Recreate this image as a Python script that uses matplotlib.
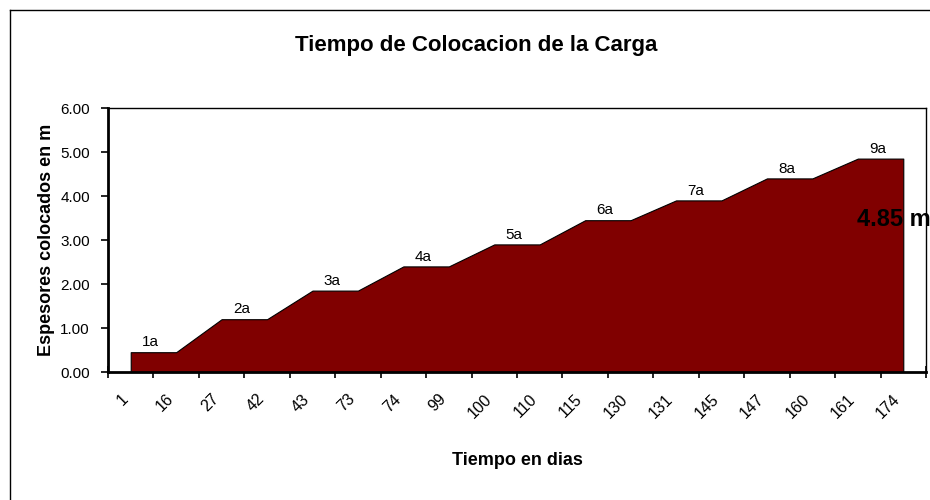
import numpy as np
import matplotlib.pyplot as plt
from matplotlib.lines import Line2D
from matplotlib.ticker import FixedLocator

plt.rcParams['font.family'] = ['Liberation Sans', 'DejaVu Sans']

# datos
dias = ['1', '16', '27', '42', '43', '73', '74', '99', '100', '110',
        '115', '130', '131', '145', '147', '160', '161', '174']
espesor = [0.45, 0.45, 1.20, 1.20, 1.85, 1.85, 2.40, 2.40, 2.90, 2.90,
           3.45, 3.45, 3.90, 3.90, 4.40, 4.40, 4.85, 4.85]
etapas = ['1a', '2a', '3a', '4a', '5a', '6a', '7a', '8a', '9a']
y_ticks = [0, 1, 2, 3, 4, 5, 6]

W, H = 930, 500
fig = plt.figure(figsize=(W / 100, H / 100), dpi=100)
ax = fig.add_axes([108 / W, 1 - 372 / H, (926 - 108) / W, (372 - 108) / H])

x = np.arange(len(dias))
ax.fill_between(x, espesor, 0, facecolor='#800000', edgecolor='black', lw=0.8, zorder=2)

# etiquetas de cada etapa, sobre el tramo horizontal
for i, lab in enumerate(etapas):
    xm = (x[2 * i] + x[2 * i + 1]) / 2
    ax.annotate(lab, (xm, espesor[2 * i]), xytext=(-2, 2), textcoords='offset points',
                ha='center', va='bottom', fontsize=11, zorder=3)

ax.set_xlim(-0.5, len(dias) - 0.5)
ax.set_ylim(0, 6)
ax.set_yticks(y_ticks)
ax.set_yticklabels([f'{v:.2f}' for v in y_ticks], fontsize=11)
ax.set_xticks(x)
ax.set_xticklabels(dias, rotation=45, ha='right', va='top', fontsize=11.5)
ax.xaxis.set_minor_locator(FixedLocator(np.arange(-0.5, len(dias), 1.0)))
ax.tick_params(axis='x', which='major', length=0, pad=14)
ax.tick_params(axis='x', which='minor', direction='inout', length=9, width=1.2)
ax.tick_params(axis='y', direction='out', length=5, width=1.2, pad=8)

for s in ax.spines.values():
    s.set_linewidth(1.0)
ax.spines['left'].set_linewidth(2)
ax.spines['bottom'].set_linewidth(2)

ax.set_ylabel('Espesores colocados en m', fontsize=13, fontweight='bold', labelpad=4)
ax.set_xlabel('Tiempo en dias', fontsize=13, fontweight='bold', labelpad=22)

fig.text(476 / W, 1 - 46 / H, 'Tiempo de Colocacion de la Carga',
         ha='center', va='center', fontsize=16, fontweight='bold')
fig.text(857 / W, 1 - 220 / H, '4.85 m', ha='left', va='center',
         fontsize=17, fontweight='bold', zorder=5)

# borde exterior del grafico
fig.add_artist(Line2D([10 / W, 1], [1 - 10 / H, 1 - 10 / H], color='black', lw=1))
fig.add_artist(Line2D([10 / W, 10 / W], [0, 1 - 10 / H], color='black', lw=1))

plt.savefig('out.png', dpi=100, facecolor='white')
plt.close()
